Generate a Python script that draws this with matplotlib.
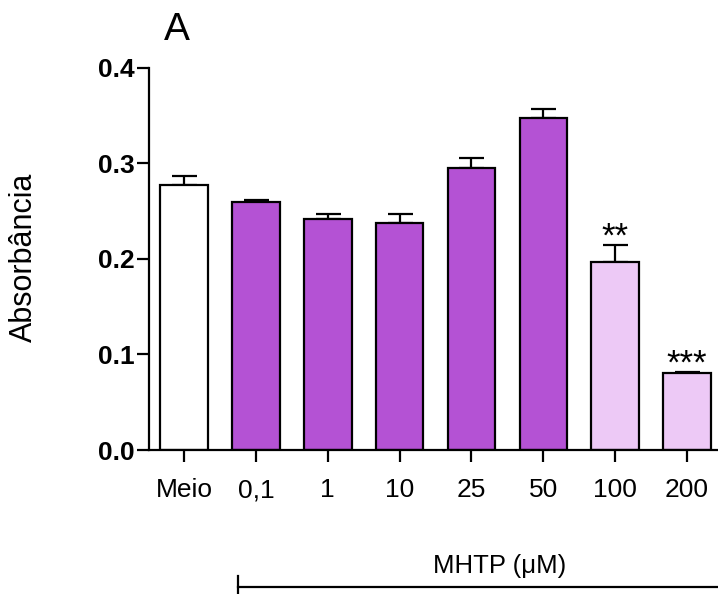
import matplotlib
matplotlib.use("Agg")
import matplotlib.pyplot as plt
from matplotlib.lines import Line2D

categories = ["Meio", "0,1", "1", "10", "25", "50", "100", "200"]
means = [0.277, 0.259, 0.242, 0.238, 0.295, 0.347, 0.197, 0.081]
errors = [0.010, 0.003, 0.005, 0.009, 0.010, 0.010, 0.018, 0.001]
colors = ["#FFFFFF", "#B452D4", "#B452D4", "#B452D4", "#B452D4", "#B452D4", "#EDC9F6", "#EDC9F6"]
stars = ["", "", "", "", "", "", "**", "***"]
yticks = [0.0, 0.1, 0.2, 0.3, 0.4]

plt.rcParams['font.family'] = ['Liberation Sans', 'DejaVu Sans']

W, H = 718, 594
fig = plt.figure(figsize=(W / 100, H / 100), dpi=100)
ax = fig.add_axes([149 / W, 1 - 450 / H, 1 - 149 / W, (450 - 67.7) / H])

x = list(range(len(categories)))
ax.bar(x, means, width=0.663, color=colors, edgecolor="black", linewidth=1.6, zorder=2)
ax.errorbar(x, means, yerr=[[0] * len(errors), errors], fmt="none", ecolor="black",
            elinewidth=1.6, capsize=9, capthick=1.6, zorder=1)

for i, (m, e, s) in enumerate(zip(means, errors, stars)):
    if s:
        ax.annotate(s, xy=(i, m + e), xytext=(0, -1.5), textcoords="offset points",
                    ha="center", va="baseline", fontsize=25)

ax.set_xlim(-0.487, 7.43)
ax.set_ylim(0, 0.4)
ax.set_xticks(x)
ax.set_xticklabels(categories, fontsize=19)
ax.set_yticks(yticks)
ax.set_yticklabels([f"{v:.1f}" for v in yticks], fontsize=19, fontweight="bold")
for sp in ["top", "right"]:
    ax.spines[sp].set_visible(False)
for sp in ["left", "bottom"]:
    ax.spines[sp].set_linewidth(1.6)
ax.tick_params(axis="both", direction="out", length=8.5, width=1.6)
ax.tick_params(axis="x", pad=12)
ax.tick_params(axis="y", pad=2)

fig.text(24 / W, 1 - 257 / H, "Absorbância", rotation=90, ha="center", va="center", fontsize=22)
fig.text(177 / W, 1 - 30 / H, "A", ha="center", va="center", fontsize=28)
fig.text(500 / W, 1 - 573 / H, "MHTP (μM)", ha="center", va="baseline", fontsize=18.5)

fig.add_artist(Line2D([237.5 / W, 1.0], [1 - 586.7 / H, 1 - 586.7 / H], color="black", linewidth=1.6))
fig.add_artist(Line2D([237.5 / W, 237.5 / W], [1 - 576 / H, 0.0], color="black", linewidth=1.6))

fig.savefig("out.png", dpi=100)
